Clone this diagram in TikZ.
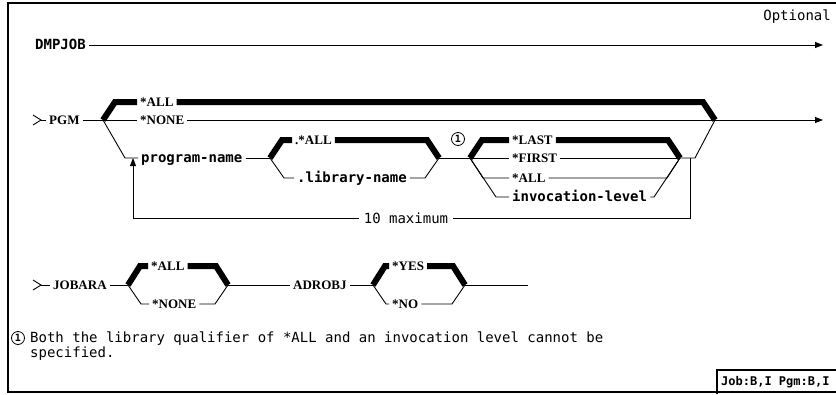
\documentclass[tikz,border=0pt]{standalone}
\usepackage{fontspec}
\setmainfont{Liberation Serif}
\newfontfamily\railmono{DejaVu Sans Mono}
\usetikzlibrary{arrows.meta,positioning}

\begin{document}
\begin{tikzpicture}[x=1pt, y=-1pt,
  rail/.style={line width=0.9pt},
  heavy/.style={line width=6pt, line join=miter},
  railtip/.style={-{Triangle[length=8pt,width=6pt]}},
  frame/.style={line width=1.2pt},
  kw/.style={font=\bfseries\fontsize{13}{13}\selectfont, inner sep=3pt, text height=8.5pt, text depth=0pt, anchor=west},
  arg/.style={font=\railmono\bfseries\fontsize{14}{14}\selectfont, inner sep=3pt, text height=9pt, text depth=0pt, anchor=west},
  note/.style={font=\railmono\fontsize{14}{12.5}\selectfont, inner sep=0pt, anchor=west},
  refmark/.style={circle, draw, line width=0.8pt, inner sep=0pt, minimum size=13pt, font=\railmono\bfseries\fontsize{10}{10}\selectfont}]
\useasboundingbox (0,0) rectangle (836,394);

% frame and tag
\begin{scope}
\clip (0,0) rectangle (836,394);
\draw[frame] (836,3) -- (8,3) -- (8,392) -- (836,392);
\draw[frame] (717,394) |- (840,370);
\end{scope}
\node[font=\railmono\bfseries\fontsize{12}{12}\selectfont, inner sep=0pt, anchor=west] (jobtag) at (721,382) {Job:B,I Pgm:B,I};
\node[note, anchor=east] (optional) at (831,17) {Optional};

% DMPJOB
\node[arg] (dmpjob) at (32,45) {DMPJOB};
\coordinate (dmpend) at (823,45);
\draw[rail, railtip] (dmpjob.east) -- (dmpend);

% PGM
\coordinate (pgmin) at (41,120);
\draw[rail] (33,115) -- (pgmin) -- (33,125);
\node[kw] (pgm) at (46,120) {PGM};
\draw[rail] (pgmin) -- (pgm.west);
\coordinate (b1) at (103,120);
\coordinate (j1) at (715,120);
\coordinate (pgmout) at (823,120);
\draw[rail] (pgm.east) -- (b1);

\node[kw] (pall) at (137,102) {*ALL};
\node[kw] (pnone) at (137,120) {*NONE};
\node[arg] (pname) at (138,158) {program-name};
\draw[heavy] (b1) -- ++(12,-18) -- (pall.west);
\draw[heavy] (pall.east) -- (703,102) -- (j1);
\draw[rail] (b1) -- (pnone.west);
\draw[rail] (pnone.east) -- (j1);
\draw[rail, railtip] (j1) -- (pgmout);
\draw[rail] (b1) -- (125,158) -- (pname.west);

\coordinate (b2) at (270,158);
\coordinate (j2) at (439,158);
\draw[rail] (pname.east) -- (b2);
\node[kw] (lall) at (292,140) {.*ALL};
\node[arg] (llib) at (294,178) {.library-name};
\draw[heavy] (b2) -- ++(12,-18) -- (lall.west);
\draw[heavy] (lall.east) -- (427,140) -- (j2);
\draw[rail] (b2) -- ++(14,20) -- (llib.west);
\draw[rail] (llib.east) -- (425,178) -- (j2);

\coordinate (b3) at (470,158);
\coordinate (j3) at (680,158);
\draw[rail] (j2) -- (b3);
\node[refmark] (pgmnote) at (458,139) {1};
\node[kw] (last) at (509,140) {*LAST};
\node[kw] (first) at (509,158) {*FIRST};
\node[kw] (iall) at (509,178) {*ALL};
\node[arg] (ilev) at (509,197) {invocation-level};
\draw[heavy] (b3) -- ++(12,-18) -- (last.west);
\draw[heavy] (last.east) -- (668,140) -- (j3);
\draw[rail] (b3) -- (first.west);
\draw[rail] (first.east) -- (j3);
\draw[rail] (b3) -- ++(13,20) -- (iall.west);
\draw[rail] (iall.east) -- (667,178) -- (j3);
\draw[rail] (b3) -- ++(26,39) -- (ilev.west);
\draw[rail] (ilev.east) -- (654,197) -- (j3);
\draw[rail] (j3) -- (695,158) -- (j1);

% repeat loop
\coordinate (loopR) at (690,158);
\coordinate (loopT) at (133,158);
\node[note, anchor=center, inner xsep=5pt] (maxlbl) at (406,218) {10 maximum};
\draw[rail] (loopR) |- (maxlbl.east);
\draw[rail, railtip] (maxlbl.west) -| (loopT);

% JOBARA and ADROBJ
\coordinate (jobin) at (41,285);
\draw[rail] (33,280) -- (jobin) -- (33,290);
\node[kw] (jobara) at (50,285) {JOBARA};
\coordinate (b4) at (128,285);
\coordinate (j4) at (228,285);
\draw[rail] (jobin) -- (jobara.west);
\draw[rail] (jobara.east) -- (b4);
\node[kw] (jall) at (148,266) {*ALL};
\node[kw] (jnone) at (149,304) {*NONE};
\draw[heavy] (b4) -- ++(12,-19) -- (jall.west);
\draw[heavy] (jall.east) -- (216,266) -- (j4);
\draw[rail] (b4) -- ++(13,19) -- (jnone.west);
\draw[rail] (jnone.east) -- (215,304) -- (j4);

\node[kw] (adrobj) at (290,285) {ADROBJ};
\coordinate (b5) at (373,285);
\coordinate (j5) at (465,285);
\coordinate (jend) at (528,285);
\draw[rail] (j4) -- (adrobj.west);
\draw[rail] (adrobj.east) -- (b5);
\node[kw] (yes) at (389,266) {*YES};
\node[kw] (no) at (389,304) {*NO};
\draw[heavy] (b5) -- ++(12,-19) -- (yes.west);
\draw[heavy] (yes.east) -- (453,266) -- (j5);
\draw[rail] (b5) -- ++(13,19) -- (no.west);
\draw[rail] (no.east) -- (452,304) -- (j5);
\draw[rail] (j5) -- (jend);

% footnote
\node[refmark] (fnmark) at (18,338) {1};
\node[note, anchor=north west, align=left] (fnote) at (30,332) {Both the library qualifier of *ALL and an invocation level cannot be\\specified.};
\end{tikzpicture}
\end{document}
